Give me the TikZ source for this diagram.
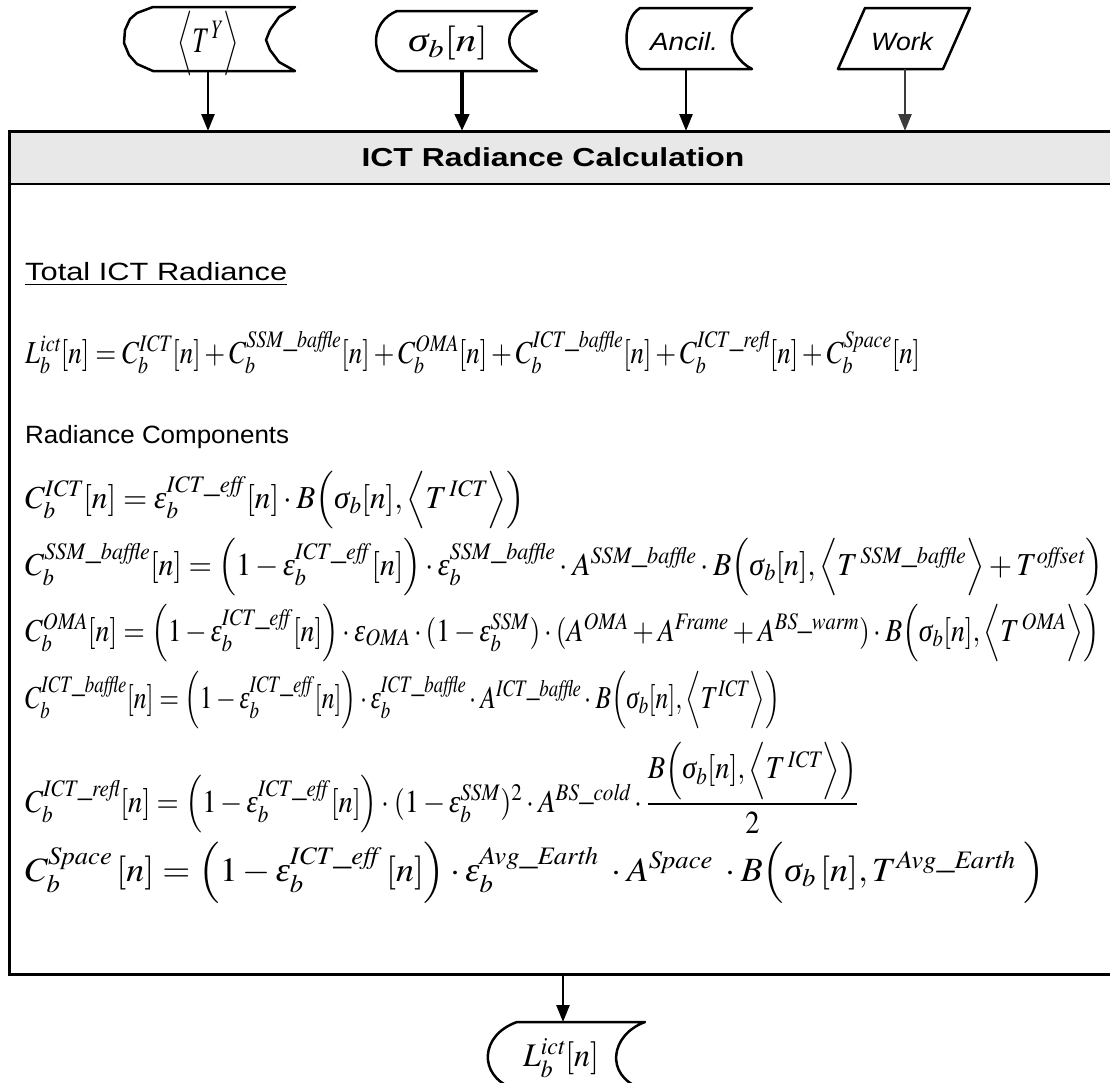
\documentclass[tikz,border=0pt]{standalone}
\usepackage{mathptmx}
\usepackage{fontspec}
\setmainfont{Liberation Serif}
\newfontfamily\arialfont{Liberation Sans}
\usepackage{graphicx}
\usetikzlibrary{arrows.meta}
\definecolor{hdrgray}{HTML}{E8E8E8}
\definecolor{workgray}{HTML}{3C3C3C}
\newcommand\eqfont{\fontsize{32}{30}\selectfont}
\newcommand\sq[2]{\resizebox{#1pt}{\height}{#2}}
\newcommand\mi[1]{\mathit{#1}}
\newcommand\vsig{\textit{σ}}
\newcommand\veps{\textit{ε}}
\tikzset{
  boxline/.style={line width=3pt,line cap=rect},
  hdrline/.style={line width=2.4pt},
  shapeline/.style={line width=2.5pt,line join=round},
  inarrow/.style={line width=2.5pt,-{Triangle[length=17pt,width=13pt]}},
  thickarrow/.style={line width=4.5pt,-{Triangle[length=17pt,width=14pt]}},
  grayarrow/.style={inarrow,draw=workgray,fill=workgray},
  eqnode/.style={anchor=base west,inner sep=0pt},
  lbl/.style={inner sep=0pt},
}
\begin{document}
\begin{tikzpicture}[x=1pt,y=-1pt]
\useasboundingbox (0,0) rectangle (1110,1082);
\clip (0,0) rectangle (1110,1082);

% main box
\fill[hdrgray] (9,131) rectangle (1125,184);
\draw[boxline] (1125,131) -- (9,131) -- (9,974) -- (1125,974);
\draw[hdrline] (9,184) -- (1125,184);

% input shape <T^Y> (polygonal stored data)
\draw[shapeline] (153,7) -- (295,7) -- (279,17) -- (270,30) -- (266,40) -- (270,50) -- (279,62) -- (295,71)
  -- (153,71) -- (137,64) -- (129,55) -- (124,43) -- (125,30) -- (130,19) -- (137,13) -- cycle;
\node[lbl] (ty) at (208,43) {\sq{62}{\fontsize{36}{28}\selectfont$\Bigl\langle T^{\,Y}\Bigr\rangle$}};

% input shape sigma_b[n]
\draw[shapeline] (397,11) -- (537,11) .. controls (500,28) and (500,54) .. (537,71)
  -- (397,71) .. controls (369,60) and (369,22) .. cycle;
\node[lbl] (sig) at (448,43) {\sq{80}{\fontsize{34}{34}\selectfont$\vsig_b[n]$}};

% input shape Ancil.
\draw[shapeline] (640,8) -- (752,8) .. controls (725,22) and (725,55) .. (752,69)
  -- (640,69) .. controls (622,58) and (622,19) .. cycle;
\node[lbl] (anc) at (684,42) {\sq{68}{\arialfont\itshape\fontsize{25}{28}\selectfont Ancil.}};

% input shape Work (parallelogram)
\draw[shapeline] (865,8) -- (970,8) -- (943,69) -- (838,69) -- cycle;
\node[lbl] (work) at (902,42) {\sq{62}{\arialfont\itshape\fontsize{25}{28}\selectfont Work}};

% output shape
\draw[shapeline] (517,1022) -- (645,1022) .. controls (610,1035) and (605,1075) .. (640,1088)
  -- (512,1088) .. controls (478,1075) and (480,1035) .. cycle;
\node[lbl] (out) at (561,1058) {\sq{76}{\fontsize{33}{34}\selectfont$L_b^{\mi{ict}}[n]$}};

% connector coordinates
\coordinate (tyS) at (208,71);  \coordinate (tyE) at (208,131);
\coordinate (sgS) at (462,71);  \coordinate (sgE) at (462,131);
\coordinate (anS) at (686,69);  \coordinate (anE) at (686,131);
\coordinate (wkS) at (905,69);  \coordinate (wkE) at (905,131);
\coordinate (boS) at (563,974); \coordinate (boE) at (563,1022);
\draw[inarrow] (tyS) -- (tyE);
\draw[thickarrow] (sgS) -- (sgE);
\draw[inarrow] (anS) -- (anE);
\draw[grayarrow] (wkS) -- (wkE);
\draw[inarrow] (boS) -- (boE);

% header title
\node[lbl] (title) at (553,157) {\sq{383}{\arialfont\bfseries\fontsize{26}{30}\selectfont ICT Radiance Calculation}};

% section labels
\node[lbl,anchor=west] (tot) at (25,274) {\sq{262}{\arialfont\fontsize{25}{29}\selectfont\underline{Total ICT Radiance}}};
\node[lbl,anchor=west] (rc) at (25,437) {\sq{264}{\arialfont\fontsize{25}{29}\selectfont Radiance Components}};

% equations
\node[eqnode] (eqL) at (25,363) {\eqfont\sq{895}{$L_b^{\mi{ict}}[n]=C_b^{\mi{ICT}}[n]+C_b^{\mi{SSM\_baffle}}[n]+C_b^{\mi{OMA}}[n]+C_b^{\mi{ICT\_baffle}}[n]+C_b^{\mi{ICT\_refl}}[n]+C_b^{\mi{Space}}[n]$}};

\node[eqnode] (eq1) at (25,508) {\eqfont\sq{500}{$C_b^{\mi{ICT}}[n]=\veps_b^{\mi{ICT\_eff}}[n]\cdot B\Bigl(\vsig_b[n],\Bigl\langle T^{\,\mi{ICT}}\Bigr\rangle\Bigr)$}};

\node[eqnode] (eq2) at (25,575) {\eqfont\sq{1078}{$C_b^{\mi{SSM\_baffle}}[n]=\Bigl(1-\veps_b^{\mi{ICT\_eff}}[n]\Bigr)\cdot\veps_b^{\mi{SSM\_baffle}}\cdot A^{\mi{SSM\_baffle}}\cdot B\Bigl(\vsig_b[n],\Bigl\langle T^{\,\mi{SSM\_baffle}}\Bigr\rangle+T^{\mi{offset}}\Bigr)$}};

\node[eqnode] (eq3) at (25,641) {\eqfont\sq{1075}{$C_b^{\mi{OMA}}[n]=\Bigl(1-\veps_b^{\mi{ICT\_eff}}[n]\Bigr)\cdot\veps_{\mi{OMA}}\cdot(1-\veps_b^{\mi{SSM}})\cdot(A^{\mi{OMA}}+A^{\mi{Frame}}+A^{\mi{BS\_warm}})\cdot B\Bigl(\vsig_b[n],\Bigl\langle T^{\,\mi{OMA}}\Bigr\rangle\Bigr)$}};

\node[eqnode] (eq4) at (25,708) {\eqfont\sq{755}{$C_b^{\mi{ICT\_baffle}}[n]=\Bigl(1-\veps_b^{\mi{ICT\_eff}}[n]\Bigr)\cdot\veps_b^{\mi{ICT\_baffle}}\cdot A^{\mi{ICT\_baffle}}\cdot B\Bigl(\vsig_b[n],\Bigl\langle T^{\mi{ICT}}\Bigr\rangle\Bigr)$}};

\node[eqnode] (eq5) at (25,812) {\eqfont\sq{833}{$C_b^{\mi{ICT\_refl}}[n]=\Bigl(1-\veps_b^{\mi{ICT\_eff}}[n]\Bigr)\cdot(1-\veps_b^{\mi{SSM}})^2\cdot A^{\mi{BS\_cold}}\cdot{\displaystyle\frac{B\Bigl(\vsig_b[n],\Bigl\langle T^{\,\mi{ICT}}\Bigr\rangle\Bigr)}{2}}$}};

\node[eqnode] (eq6) at (25,881) {\fontsize{34}{32}\selectfont\sq{1020}{$C_b^{\mi{Space}}\,[n]=\Bigl(1-\veps_b^{\mi{ICT\_eff}}\,[n]\Bigr)\cdot\veps_b^{\mi{Avg\_Earth}}\;\cdot A^{\mi{Space}}\;\cdot B\Bigl(\vsig_b\,[n],T^{\mi{Avg\_Earth}}\;\Bigr)$}};
\end{tikzpicture}
\end{document}
